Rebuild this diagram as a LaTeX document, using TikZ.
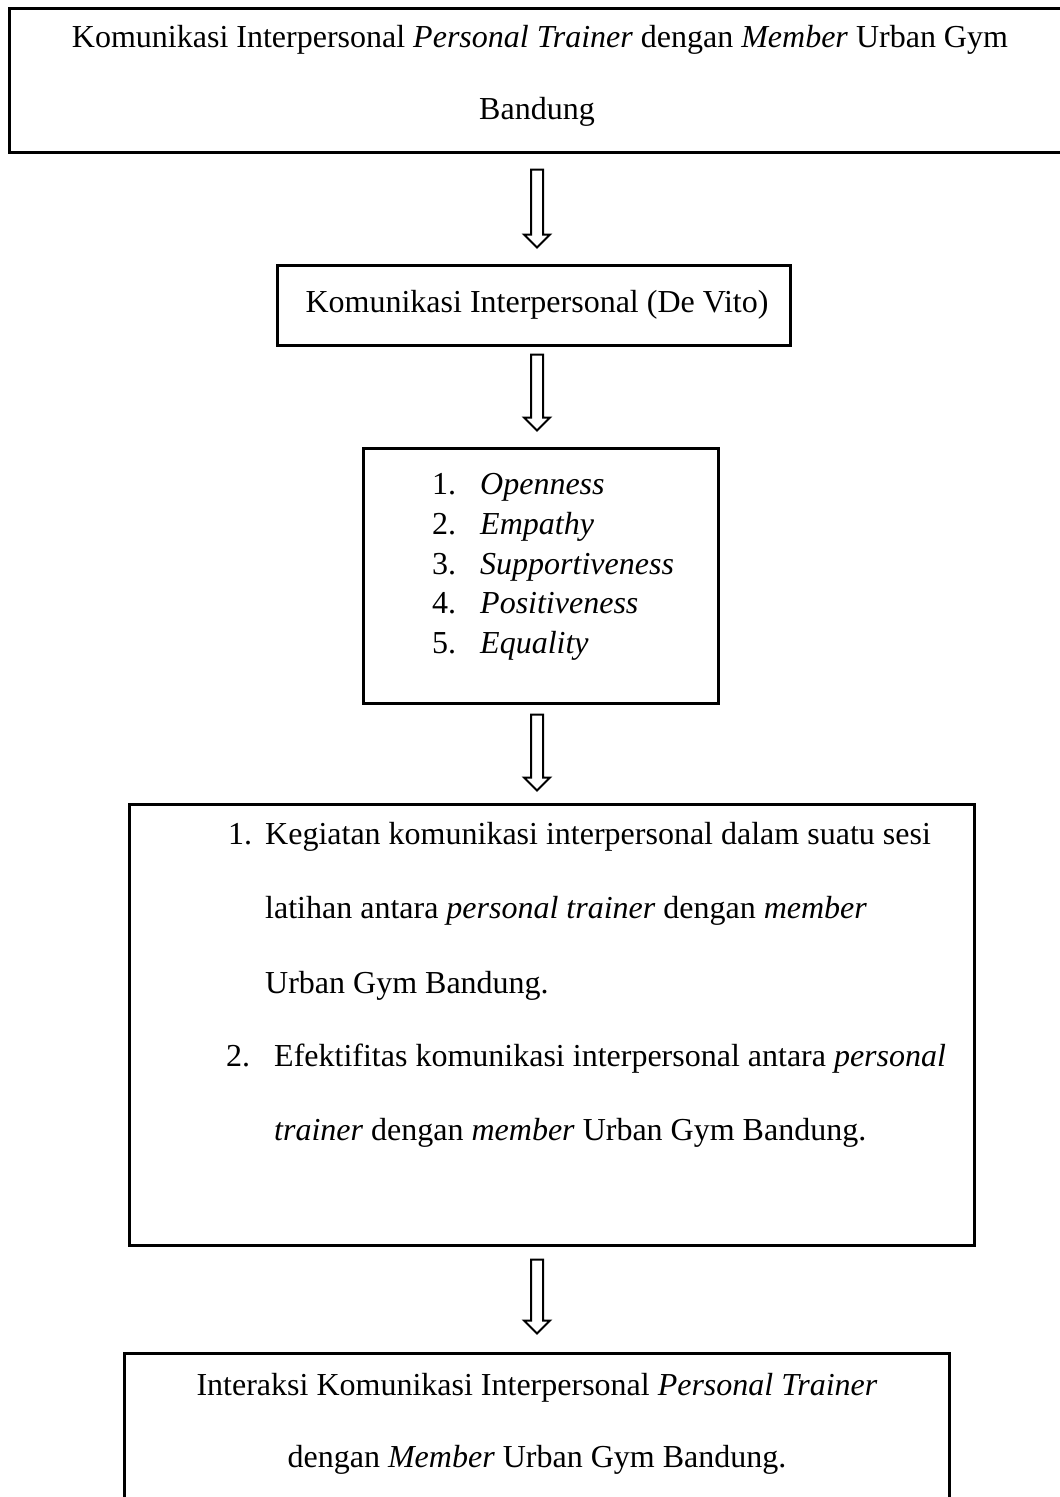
\documentclass[tikz,border=0pt]{standalone}
\usepackage{fontspec}
\setmainfont{Liberation Serif}
\usetikzlibrary{calc}
\tikzset{
  box/.style={draw=black, line width=3pt, rectangle, inner sep=0pt, fill=none},
  txt/.style={inner sep=0pt, anchor=base, font=\fontsize{32}{38}\selectfont},
  txtl/.style={inner sep=0pt, anchor=base west, font=\fontsize{32}{38}\selectfont},
  hollow/.style={draw=black, line width=2pt, line join=miter, fill=white}
}
\newcommand\hollowarrow[2]{%
  \draw[hollow] let \p1=(#1), \p2=(#2) in
    (\x1-6pt,\y1) -- (\x1+6pt,\y1) -- (\x1+6pt,\y2+13pt) -- (\x1+13pt,\y2+13pt)
    -- (\x1,\y2) -- (\x1-13pt,\y2+13pt) -- (\x1-6pt,\y2+13pt) -- cycle;}
\begin{document}
\begin{tikzpicture}[x=1pt,y=-1pt]
\useasboundingbox (0,0) rectangle (1060,1497);
\clip (0,0) rectangle (1060,1497);
\fill[white] (0,0) rectangle (1060,1497);

% boxes
\node[box, minimum width=1066pt, minimum height=144pt] (b1) at (542,80) {};
\node[box, minimum width=513pt, minimum height=80pt] (b2) at (533.5,305) {};
\node[box, minimum width=355pt, minimum height=255pt] (b3) at (540.5,575.5) {};
\node[box, minimum width=845pt, minimum height=441pt] (b4) at (551.5,1024.5) {};
\node[box, minimum width=825pt, minimum height=170pt] (b5) at (536.5,1438) {};

% texts
\node[txt] (t1a) at (540,47) {Komunikasi Interpersonal \textit{Personal Trainer} dengan \textit{Member} Urban Gym};
\node[txt] (t1b) at (537,119) {Bandung};

\node[txt] (t2) at (537,312) {Komunikasi Interpersonal (De Vito)};

\node[txtl] (n31) at (432,494) {1.};
\node[txtl] (n32) at (432,534) {2.};
\node[txtl] (n33) at (432,574) {3.};
\node[txtl] (n34) at (432,613) {4.};
\node[txtl] (n35) at (432,653) {5.};
\node[txtl] (i31) at (480,494) {\textit{Openness}};
\node[txtl] (i32) at (480,534) {\textit{Empathy}};
\node[txtl] (i33) at (480,574) {\textit{Supportiveness}};
\node[txtl] (i34) at (480,613) {\textit{Positiveness}};
\node[txtl] (i35) at (480,653) {\textit{Equality}};

\node[txtl] (n41) at (228,844) {1.};
\node[txtl] (l41) at (265,844) {Kegiatan komunikasi interpersonal dalam suatu sesi};
\node[txtl] (l42) at (265,918) {latihan antara \textit{personal trainer} dengan \textit{member}};
\node[txtl] (l43) at (265,993) {Urban Gym Bandung.};
\node[txtl] (n42) at (226,1066) {2.};
\node[txtl] (l44) at (274,1066) {Efektifitas komunikasi interpersonal antara \textit{personal}};
\node[txtl] (l45) at (274,1140) {\textit{trainer} dengan \textit{member} Urban Gym Bandung.};

\node[txt] (t5a) at (537,1395) {Interaksi Komunikasi Interpersonal \textit{Personal Trainer}};
\node[txt] (t5b) at (537,1467) {dengan \textit{Member} Urban Gym Bandung.};

% arrows
\coordinate (ax) at (537,0);
\coordinate (a1s) at ($(ax |- b1.south)+(0,16)$);
\coordinate (a1e) at ($(ax |- b2.north)+(0,-16)$);
\coordinate (a2s) at ($(ax |- b2.south)+(0,8)$);
\coordinate (a2e) at ($(ax |- b3.north)+(0,-16)$);
\coordinate (a3s) at ($(ax |- b3.south)+(0,10)$);
\coordinate (a3e) at ($(ax |- b4.north)+(0,-12)$);
\coordinate (a4s) at ($(ax |- b4.south)+(0,13)$);
\coordinate (a4e) at ($(ax |- b5.north)+(0,-18)$);
\hollowarrow{a1s}{a1e}
\hollowarrow{a2s}{a2e}
\hollowarrow{a3s}{a3e}
\hollowarrow{a4s}{a4e}
\end{tikzpicture}
\end{document}
